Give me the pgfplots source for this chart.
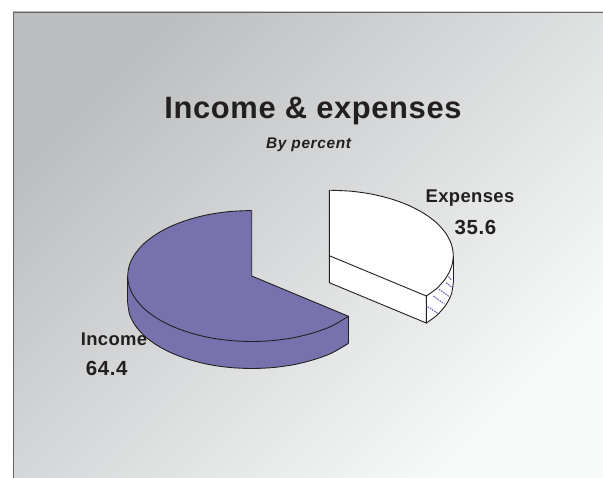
\documentclass[border=0pt]{standalone}
\usepackage{pgfplots}
\pgfplotsset{compat=1.18}
\usepackage{fontspec}
\setmainfont{Liberation Sans}
\definecolor{slice}{RGB}{119,113,174}
\definecolor{ink}{RGB}{35,31,32}
\definecolor{hatch}{RGB}{105,105,200}
\definecolor{pa}{RGB}{188,189,191}
\definecolor{pb}{RGB}{248,249,249}
\begin{document}
\begin{tikzpicture}[x=1bp,y=1bp]
\begin{axis}[
  scale only axis, width=603bp, height=478bp,
  xmin=0,xmax=603,ymin=0,ymax=478,y dir=reverse,
  hide axis, clip=true,
  every axis plot/.append style={mark=none},
]
\path[fill=white] (axis cs:0,0) rectangle (axis cs:603,478);
% panel
\path[shading=axis,top color=pa,bottom color=pb,shading angle=45] (axis cs:13,12) rectangle (axis cs:603,478);
\addplot[draw={rgb,255:red,100;green,100;blue,100},line width=0.8pt] coordinates {(13,478)(13,12)(603,12)};
% income wall
\addplot[fill=slice,draw=none] coordinates {(127.7,276)(129.6,287.4)(135.2,298.4)(144.3,308.75)(156.7,318.1)(172,326.2)(189.7,332.7)(209.3,337.6)(230.2,340.5)(251.7,341.5)(273.2,340.5)(294.1,337.6)(313.7,332.7)(331.4,326.2)(346.7,318.1)(348.5,316.3)(348.5,343.3)(346.7,345.1)(331.4,353.2)(313.7,359.7)(294.1,364.6)(273.2,367.5)(251.7,368.5)(230.2,367.5)(209.3,364.6)(189.7,359.7)(172,353.2)(156.7,345.1)(144.3,335.75)(135.2,325.4)(129.6,314.4)(127.7,303)} --cycle;
% income top
\addplot[fill=slice,draw=none] coordinates {(251.7,276)(251.7,210.5)(230.2,211.5)(209.3,214.4)(189.7,219.3)(172,225.8)(156.7,233.9)(144.3,243.25)(135.2,253.6)(129.6,264.6)(127.7,276)(129.6,287.4)(135.2,298.4)(144.3,308.75)(156.7,318.1)(172,326.2)(189.7,332.7)(209.3,337.6)(230.2,340.5)(251.7,341.5)(273.2,340.5)(294.1,337.6)(313.7,332.7)(331.4,326.2)(346.7,318.1)(348.5,316.3)} --cycle;
\addplot[ink,line width=0.9pt,smooth] coordinates {(251.7,210.5)(230.2,211.5)(209.3,214.4)(189.7,219.3)(172,225.8)(156.7,233.9)(144.3,243.25)(135.2,253.6)(129.6,264.6)(127.7,276)(129.6,287.4)(135.2,298.4)(144.3,308.75)(156.7,318.1)(172,326.2)(189.7,332.7)(209.3,337.6)(230.2,340.5)(251.7,341.5)(273.2,340.5)(294.1,337.6)(313.7,332.7)(331.4,326.2)(348.5,316.3)};
\addplot[ink,line width=0.9pt,smooth] coordinates {(127.7,303)(129.6,314.4)(135.2,325.4)(144.3,335.75)(156.7,345.1)(172,353.2)(189.7,359.7)(209.3,364.6)(230.2,367.5)(251.7,368.5)(273.2,367.5)(294.1,364.6)(313.7,359.7)(331.4,353.2)(348.5,343.3)};
\addplot[ink,line width=0.9pt] coordinates {(251.7,210.5)(251.7,276)(348.5,316.3)(348.5,343.3)};
\addplot[ink,line width=0.9pt] coordinates {(127.7,276)(127.7,303)};
% expenses wall
\addplot[fill=white,draw=none] coordinates {(426.3,296)(436.7,288.45)(445.8,278.1)(451.4,267.1)(453.3,255.7)(453.3,282.7)(451.4,294.1)(445.8,305.1)(436.7,315.45)(426.3,323)} --cycle;
\addplot[hatch,line width=1.1pt,dash pattern=on 1.6pt off 1pt] coordinates {(448.3,276.7)(451.5,280)};
\addplot[hatch,line width=1.1pt,dash pattern=on 1.6pt off 1pt] coordinates {(446.3,282.7)(451.5,287)};
\addplot[hatch,line width=1.1pt,dash pattern=on 1.6pt off 1pt] coordinates {(439,289.3)(449.3,296.7)};
\addplot[hatch,line width=1.1pt,dash pattern=on 1.6pt off 1pt] coordinates {(433.3,296)(444.3,304)};
\addplot[hatch,line width=1.1pt,dash pattern=on 1.6pt off 1pt] coordinates {(427.7,306.7)(437.7,313.3)};
% expenses front and top
\addplot[fill=white,draw=none] coordinates {(329.3,255.7)(426.3,296)(426.3,323)(329.3,282.7)} --cycle;
\addplot[fill=white,draw=none] coordinates {(329.3,255.7)(329.3,190.2)(350.8,191.2)(371.7,194.1)(391.3,199)(409,205.5)(424.3,213.6)(436.7,222.95)(445.8,233.3)(451.4,244.3)(453.3,255.7)(451.4,267.1)(445.8,278.1)(436.7,288.45)(426.3,296)} --cycle;
\addplot[ink,line width=0.9pt,smooth] coordinates {(329.3,190.2)(350.8,191.2)(371.7,194.1)(391.3,199)(409,205.5)(424.3,213.6)(436.7,222.95)(445.8,233.3)(451.4,244.3)(453.3,255.7)(451.4,267.1)(445.8,278.1)(436.7,288.45)(426.3,296)};
\addplot[ink,line width=0.9pt,smooth] coordinates {(453.3,282.7)(451.4,294.1)(445.8,305.1)(436.7,315.45)(426.3,323)};
\addplot[ink,line width=0.9pt] coordinates {(329.3,190.2)(329.3,282.7)(426.3,323)(426.3,296)(329.3,255.7)};
\addplot[ink,line width=0.9pt] coordinates {(453.3,255.7)(453.3,282.7)};
% text
\node[ink,anchor=base,font=\fontsize{31}{31}\selectfont\bfseries] at (axis cs:313,118.3) {\addfontfeatures{LetterSpace=2}Income \& expenses};
\node[ink,anchor=base,font=\fontsize{15.5}{15.5}\selectfont\bfseries\itshape] at (axis cs:308.6,148.5) {\addfontfeatures{LetterSpace=4}By percent};
\node[ink,anchor=base,font=\fontsize{18.5}{18.5}\selectfont\bfseries] at (axis cs:470,202.7) {\addfontfeatures{LetterSpace=2}Expenses};
\node[ink,anchor=base,font=\fontsize{20.5}{20.5}\selectfont\bfseries] at (axis cs:475.5,234) {\addfontfeatures{LetterSpace=3}35.6};
\node[ink,anchor=base,font=\fontsize{18.5}{18.5}\selectfont\bfseries] at (axis cs:114,345.7) {\addfontfeatures{LetterSpace=2}Income};
\node[ink,anchor=base,font=\fontsize{20.5}{20.5}\selectfont\bfseries] at (axis cs:106.7,375) {\addfontfeatures{LetterSpace=3}64.4};
\end{axis}
\end{tikzpicture}
\end{document}
